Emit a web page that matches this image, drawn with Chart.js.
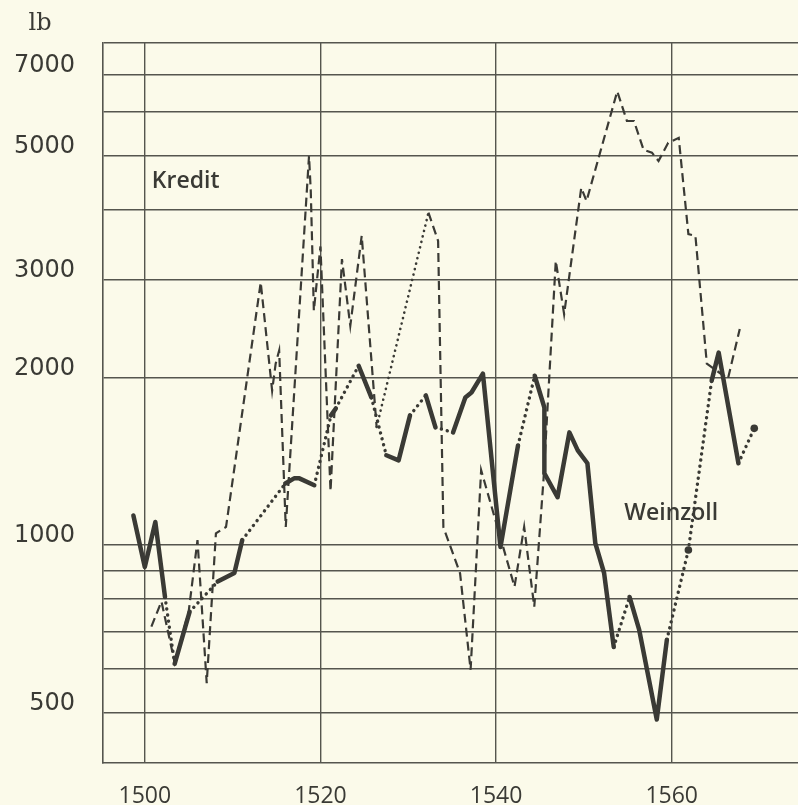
<!DOCTYPE html>
<html lang="de">
<head>
<meta charset="UTF-8">
<title>Kredit und Weinzoll</title>
<style>
  body { margin: 0; background: #fbfaea; overflow: hidden; }
  canvas { display: block; }
</style>
</head>
<body>
<canvas id="chart" width="830" height="805"></canvas>

<script src="https://cdn.jsdelivr.net/npm/chart.js@4/dist/chart.umd.min.js"></script>
<script>
  // values (lb, log scale); null = no figure for that stretch
  const weinzollYears = [1498.7, 1500.0, 1501.2, 1502.3, 1502.8, 1503.4, 1505.1, 1506.7, 1508.3, 1510.2,
    1511.1, 1513.5, 1516.0, 1517.0, 1517.6, 1519.3, 1520.3, 1521.2, 1521.75, 1523.0,
    1524.35, 1525.8, 1526.6, 1527.5, 1528.9, 1530.2, 1531.1, 1532.0, 1533.1, 1534.1,
    1535.1, 1536.5, 1537.2, 1538.5, 1540.5, 1542.5, 1543.4, 1544.4, 1545.5, 1545.5,
    1547.0, 1548.35, 1549.3, 1550.4, 1551.3, 1552.3, 1553.4, 1554.3, 1555.2, 1556.3,
    1558.3, 1559.45, 1560.7, 1561.9, 1563.2, 1564.55, 1565.35, 1567.6, 1568.5, 1569.4];
  const weinzollValues = [1130, 913, 1100, 807, null, 612, 759, null, 860, 891,
    1021, null, 1290, 1318, 1318, 1281, null, 1710, 1760, null,
    2100, 1842, null, 1450, 1420, 1710, null, 1858, 1627, null,
    1594, 1842, 1880, 2033, 992, 1510, null, 2015, 1767, 1346,
    1219, 1594, 1480, 1403, 1008, 891, 656, null, 807, 704,
    486, 676, null, 980, null, 1975, 2217, 1403, null, 1621];

  const kreditYears = [1500.75, 1501.9, 1503.4, 1505.0, 1506.0, 1507.05, 1508.1, 1509.25, 1513.2, 1514.5,
    1514.9, 1515.3, 1516.05, 1518.7, 1518.9, 1519.25, 1520.0, 1521.15, 1522.45, 1523.4,
    1524.7, 1526.4, 1529.0, 1532.3, 1533.4, 1534.0, 1535.9, 1537.1, 1538.3, 1542.1,
    1543.2, 1544.35, 1545.4, 1546.8, 1547.75, 1549.7, 1550.3, 1553.8, 1554.9, 1555.7,
    1556.8, 1557.75, 1558.5, 1559.6, 1560.8, 1561.9, 1562.7, 1564.0, 1566.4, 1567.75];
  const kreditValues = [714, 792, 615, 760, 1021, 565, 1050, 1078, 2965, 1895,
    2118, 2236, 1078, 5000, 4325, 2637, 3440, 1250, 3265, 2478,
    3595, 1630, null, 3957, 3520, 1077, 890, 597, 1363, 842,
    1078, 775, 1310, 3240, 2600, 4385, 4150, 6535, 5780, 5780,
    5130, 5070, 4900, 5280, 5390, 3620, 3595, 2118, 1990, 2445];

  const yearTicks = [1500, 1520, 1540, 1560];
  const gridValues = [500, 600, 700, 800, 900, 1000, 2000, 3000, 4000, 5000, 6000, 7000, 8000];
  const labelledValues = [500, 1000, 2000, 3000, 5000, 7000];

  const ink = '#3a3a35';
  const gridInk = '#55554e';

  function points(xs, ys) {
    return xs.map((x, i) => ({ x: x, y: ys[i] }));
  }

  // a figure standing alone between two gaps gets a dot
  function isolated(values, i) {
    if (values[i] == null) return false;
    const before = i === 0 ? null : values[i - 1];
    const after = i === values.length - 1 ? null : values[i + 1];
    return before == null && after == null;
  }

  const gap = (ctx, value) => (ctx.p0.skip || ctx.p1.skip) ? value : undefined;

  const paper = {
    id: 'paper',
    beforeDraw(chart) {
      const c = chart.ctx;
      c.save();
      c.fillStyle = '#fbfaea';
      c.fillRect(0, 0, chart.width, chart.height);
      c.restore();
    },
    afterDraw(chart) {
      const c = chart.ctx;
      const x = chart.scales.x, y = chart.scales.y;
      c.save();
      c.fillStyle = ink;
      c.textBaseline = 'middle';
      c.font = '24px "DejaVu Serif"';
      c.textAlign = 'center';
      c.fillText('lb', 40, 24);
      c.font = '600 23px "Open Sans"';
      c.textAlign = 'left';
      c.fillText('Kredit', x.getPixelForValue(1500.8), y.getPixelForValue(4500));
      c.fillText('Weinzoll', x.getPixelForValue(1554.6), y.getPixelForValue(1140));
      c.restore();
    }
  };

  new Chart(document.getElementById('chart'), {
    type: 'line',
    data: {
      datasets: [
        {
          label: 'Weinzoll',
          data: points(weinzollYears, weinzollValues),
          borderColor: ink,
          borderWidth: 4.5,
          borderJoinStyle: 'round',
          borderCapStyle: 'round',
          spanGaps: true,
          tension: 0,
          pointRadius: ctx => isolated(weinzollValues, ctx.dataIndex) ? 3.8 : 0,
          pointBackgroundColor: ink,
          pointBorderWidth: 0,
          segment: {
            borderDash: ctx => gap(ctx, [0.1, 6]),
            borderWidth: ctx => gap(ctx, 3.4)
          }
        },
        {
          label: 'Kredit',
          data: points(kreditYears, kreditValues),
          borderColor: ink,
          borderWidth: 2.2,
          borderDash: [9, 5],
          spanGaps: true,
          tension: 0,
          pointRadius: 0,
          segment: {
            borderDash: ctx => gap(ctx, [0.1, 5.5]),
            borderWidth: ctx => gap(ctx, 2.6),
            borderCapStyle: ctx => gap(ctx, 'round')
          }
        }
      ]
    },
    options: {
      responsive: false,
      animation: false,
      events: [],
      layout: { padding: { top: 42, left: 0, right: 0, bottom: 0 } },
      plugins: { legend: { display: false }, tooltip: { enabled: false } },
      scales: {
        x: {
          type: 'linear',
          min: 1495.24,
          max: 1577.57,
          afterBuildTicks: scale => { scale.ticks = yearTicks.map(v => ({ value: v })); },
          afterFit: scale => { scale.height = 41; },
          grid: { color: gridInk, lineWidth: 1.4, drawTicks: false },
          border: { color: gridInk, width: 1.6 },
          ticks: {
            padding: 20,
            color: ink,
            font: { family: '"Open Sans"', size: 23 },
            callback: v => String(v)
          }
        },
        y: {
          type: 'logarithmic',
          min: 406.7,
          max: 8000,
          afterBuildTicks: scale => { scale.ticks = gridValues.map(v => ({ value: v })); },
          afterFit: scale => { scale.width = 103; },
          grid: { color: gridInk, lineWidth: 1.4, drawTicks: false },
          border: { color: gridInk, width: 1.6 },
          ticks: {
            padding: 28,
            labelOffset: -9,
            color: ink,
            font: { family: '"DejaVu Sans"', size: 24 },
            autoSkip: false,
            callback: v => labelledValues.includes(v) ? String(v) : ''
          }
        }
      }
    },
    plugins: [paper]
  });
</script>
</body>
</html>
